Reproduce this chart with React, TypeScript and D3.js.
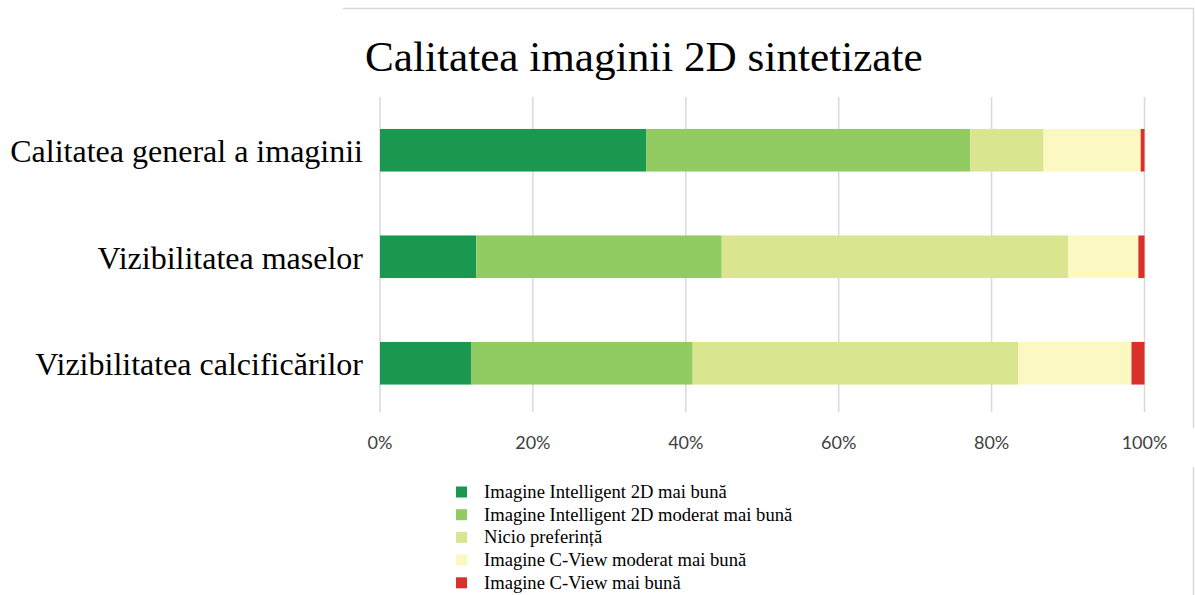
import React, { useEffect, useRef } from 'react'
import * as d3 from 'd3'

const categories = [
  'Calitatea general a imaginii',
  'Vizibilitatea maselor',
  'Vizibilitatea calcificărilor',
]

const seriesNames = [
  'Imagine Intelligent 2D mai bună',
  'Imagine Intelligent 2D moderat mai bună',
  'Nicio preferință',
  'Imagine C-View moderat mai bună',
  'Imagine C-View mai bună',
]

// one array per series, values in percent, same order as categories
const bestI2D = [34.8, 12.6, 11.9]
const moderateI2D = [42.4, 32.1, 29.0]
const noPreference = [9.6, 45.3, 42.6]
const moderateCView = [12.7, 9.2, 14.8]
const bestCView = [0.5, 0.8, 1.7]

const colors = ['#1a9850', '#91cb62', '#d9e68f', '#fbf8c2', '#d9302a']
const tickValues = [0, 20, 40, 60, 80, 100]

export default function App() {
  const svgRef = useRef<SVGSVGElement>(null)

  const width = 1195
  const height = 595

  useEffect(() => {
    const svg = d3.select(svgRef.current)
    svg.selectAll('*').remove()

    const serif = '"Liberation Serif", "Times New Roman", serif'

    // frame lines
    svg.append('path')
      .attr('d', 'M343,8.5 H1193.5 V428 M1193.5,467 V595')
      .attr('fill', 'none')
      .attr('stroke', '#d9d9d9')
      .attr('stroke-width', 1.5)

    const x = d3.scaleLinear().domain([0, 100]).range([380, 1144.5])
    const y = d3.scaleBand()
      .domain(categories)
      .range([97, 416.5])
      .paddingInner(0.6)
      .paddingOuter(0.3)

    const table = categories.map((c, i) => ({
      category: c,
      s0: bestI2D[i],
      s1: moderateI2D[i],
      s2: noPreference[i],
      s3: moderateCView[i],
      s4: bestCView[i],
    }))
    const keys = ['s0', 's1', 's2', 's3', 's4']
    const stacked = d3.stack<any>().keys(keys)(table)

    // gridlines
    svg.append('g')
      .selectAll('line')
      .data(tickValues)
      .enter()
      .append('line')
      .attr('x1', d => x(d))
      .attr('x2', d => x(d))
      .attr('y1', 97)
      .attr('y2', 412)
      .attr('stroke', '#d9d9d9')
      .attr('stroke-width', 1.5)

    // tick labels
    svg.append('g')
      .selectAll('text')
      .data(tickValues)
      .enter()
      .append('text')
      .attr('x', d => x(d))
      .attr('y', 449)
      .attr('text-anchor', 'middle')
      .attr('font-family', 'Lato, "Open Sans", sans-serif')
      .attr('font-size', 18)
      .attr('fill', '#404040')
      .text(d => d + '%')

    // bars
    stacked.forEach((layer, li) => {
      svg.append('g')
        .attr('fill', colors[li])
        .selectAll('rect')
        .data(layer)
        .enter()
        .append('rect')
        .attr('x', d => x(d[0]))
        .attr('width', d => x(d[1]) - x(d[0]))
        .attr('y', d => y(d.data.category)!)
        .attr('height', y.bandwidth())
    })

    // category labels
    svg.append('g')
      .selectAll('text')
      .data(categories)
      .enter()
      .append('text')
      .attr('x', 363)
      .attr('y', d => y(d)! + y.bandwidth() / 2 + 12)
      .attr('text-anchor', 'end')
      .attr('font-family', serif)
      .attr('font-size', 32)
      .attr('fill', '#000')
      .text(d => d)

    // title
    svg.append('text')
      .attr('x', 365)
      .attr('y', 71)
      .attr('font-family', serif)
      .attr('font-size', 43.2)
      .attr('fill', '#000')
      .text('Calitatea imaginii 2D sintetizate')

    // legend
    const legend = svg.append('g')
      .selectAll('g')
      .data(seriesNames)
      .enter()
      .append('g')
      .attr('transform', (d, i) => `translate(456, ${492 + i * 22.7})`)

    legend.append('rect')
      .attr('x', 0)
      .attr('y', -5.5)
      .attr('width', 11)
      .attr('height', 11)
      .attr('fill', (d, i) => colors[i])

    legend.append('text')
      .attr('x', 28)
      .attr('y', 6)
      .attr('font-family', serif)
      .attr('font-size', 18.6)
      .attr('fill', '#000')
      .text(d => d)
  }, [])

  return (
    <svg
      ref={svgRef}
      width={width}
      height={height}
      style={{ position: 'absolute', left: 0, top: 0, background: '#fff' }}
    />
  )
}
